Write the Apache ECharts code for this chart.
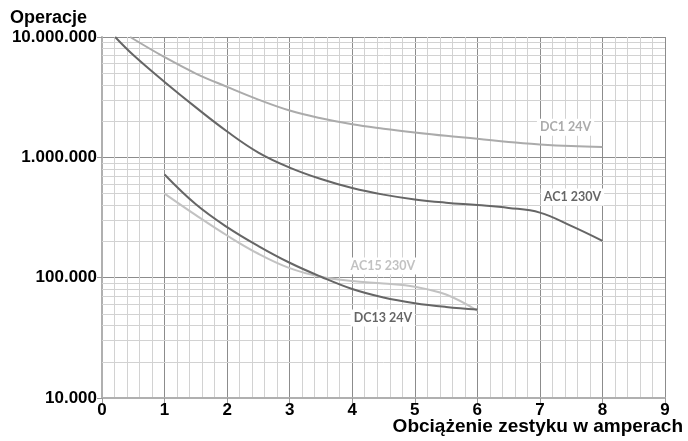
<!DOCTYPE html>
<html><head><meta charset="utf-8">
<script src="https://cdn.jsdelivr.net/npm/echarts@6/dist/echarts.min.js"></script>
<style>html,body{margin:0;padding:0;background:#fff}#c{width:688px;height:441px}</style>
</head><body><div id="c"></div>
<script>
// ---- data ----
const xTicks = [0, 1, 2, 3, 4, 5, 6, 7, 8, 9];
const yTicks = [10000, 100000, 1000000, 10000000];
const seriesNames = ['DC1 24V', 'AC1 230V', 'AC15 230V', 'DC13 24V'];
const dc1_24V = [[0.45,10000000],[1,6800000],[1.5,4970000],[2,3850000],[2.5,3020000],[3,2450000],[3.5,2110000],[4,1880000],[4.5,1730000],[5,1610000],[5.5,1510000],[6,1430000],[6.5,1340000],[7,1280000],[7.5,1240000],[8,1220000]];
const ac1_230V = [[0.21,10000000],[0.5,7080000],[1,4230000],[1.5,2600000],[2,1640000],[2.5,1096000],[3,822000],[3.5,660000],[4,556000],[4.5,490000],[5,447000],[5.5,420000],[6,401000],[6.5,380000],[7,347000],[7.5,269000],[8,202000]];
const ac15_230V = [[1,500000],[1.5,331000],[2,224000],[2.5,158000],[3,120000],[3.5,101600],[4,93800],[4.5,89500],[5,84100],[5.5,72400],[6,53100]];
const dc13_24V = [[1,720000],[1.5,407000],[2,263000],[2.5,183000],[3,133000],[3.5,101800],[4,80400],[4.5,68400],[5,61400],[5.5,57100],[6,54300]];

// minor log grid values (2..9 per decade)
const minorY = [];
for (let d = 0; d < yTicks.length - 1; d++) {
  for (let k = 2; k <= 9; k++) minorY.push(yTicks[d] * k);
}
const fmt = v => String(Math.round(v)).replace(/\B(?=(\d{3})+(?!\d))/g, '.');
const labFont = {fontFamily: 'Lato', fontWeight: 'bold', fontSize: 12.5, backgroundColor: '#fff', padding: [2, 3]};

function curve(name, data, color, labelCoord) {
  return {
    name, type: 'line', data, smooth: 0.4, showSymbol: false, symbol: 'none',
    lineStyle: {color, width: 2}, z: 3, silent: true,
    markPoint: {
      symbol: 'rect', symbolSize: 0, silent: true, z: 6,
      data: [{coord: labelCoord, label: {show: true, position: 'inside', formatter: name, color, ...labFont}}]
    }
  };
}

const chart = echarts.init(document.getElementById('c'), null, {renderer: 'canvas'});
chart.setOption({
  animation: false,
  backgroundColor: '#fff',
  grid: {left: 102, right: 23, top: 37, bottom: 43, containLabel: false},
  xAxis: {
    type: 'value', min: xTicks[0], max: xTicks[xTicks.length - 1], interval: 1,
    axisLine: {show: true, lineStyle: {color: '#b0b0b0', width: 2}},
    axisTick: {show: true, length: 5, lineStyle: {color: '#999'}},
    axisLabel: {margin: 4, color: '#000', fontFamily: 'Liberation Sans', fontWeight: 'bold', fontSize: 17},
    splitLine: {show: true, lineStyle: {color: '#8c8c8c', width: 1}},
    minorTick: {show: false, splitNumber: 5},
    minorSplitLine: {show: true, lineStyle: {color: '#d2d2d2', width: 1}}
  },
  yAxis: {
    type: 'log', logBase: 10, min: yTicks[0], max: yTicks[yTicks.length - 1],
    axisLine: {show: true, lineStyle: {color: '#b0b0b0', width: 2}},
    axisTick: {show: true, length: 5, lineStyle: {color: '#999'}},
    axisLabel: {margin: 5, color: '#000', fontFamily: 'Liberation Sans', fontWeight: 'bold', fontSize: 17, formatter: fmt},
    splitLine: {show: true, lineStyle: {color: '#8c8c8c', width: 1}}
  },
  graphic: [
    {type: 'text', left: 10, top: 9, style: {text: 'Operacje', fill: '#000', font: 'bold 18px "Liberation Sans"'}},
    {type: 'text', right: 5, bottom: 5, style: {text: 'Obciążenie zestyku w amperach', fill: '#000', font: 'bold 19px "Liberation Sans"'}}
  ],
  series: [
    {
      type: 'line', data: [], silent: true, z: 1,
      markLine: {
        silent: true, symbol: 'none', z: 1, animation: false,
        label: {show: false},
        lineStyle: {color: '#d2d2d2', width: 1, type: 'solid'},
        data: minorY.map(v => ({yAxis: v}))
      }
    },
    curve(seriesNames[0], dc1_24V, '#ababab', [7.41, 1780000]),
    curve(seriesNames[1], ac1_230V, '#666666', [7.52, 468000]),
    curve(seriesNames[2], ac15_230V, '#c2c2c2', [4.49, 125000]),
    curve(seriesNames[3], dc13_24V, '#666666', [4.49, 46300])
  ]
});
</script>
</body></html>
